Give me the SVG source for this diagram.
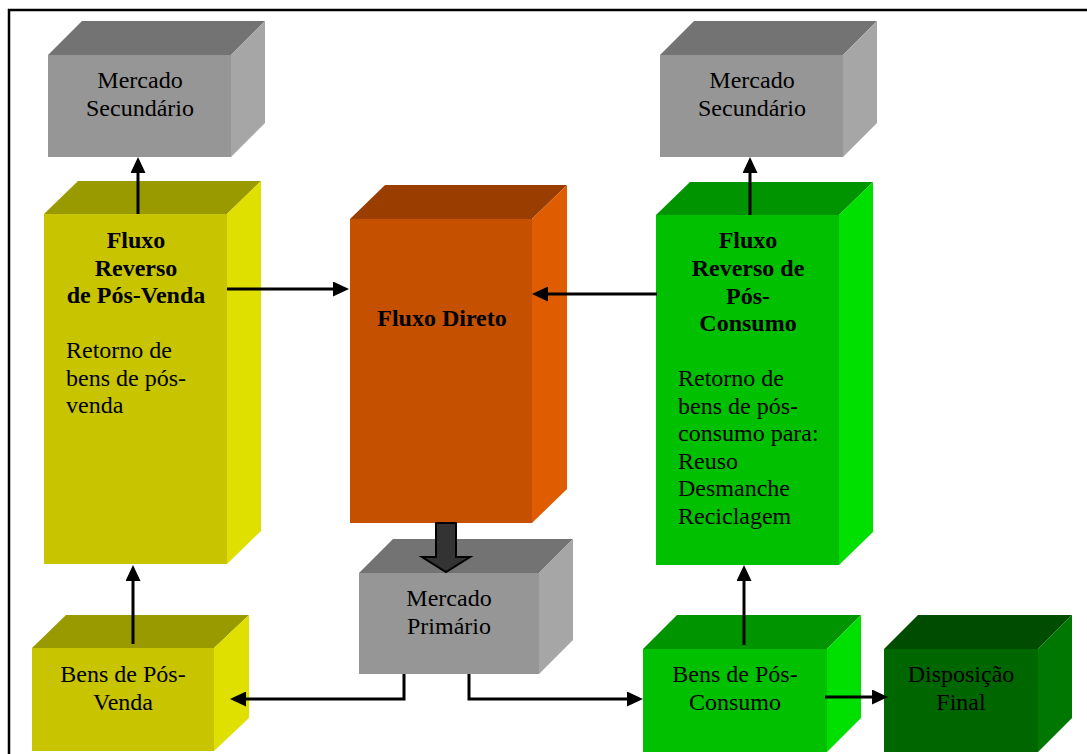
<svg xmlns="http://www.w3.org/2000/svg" width="1087" height="754" viewBox="0 0 1087 754">
  <defs>
    <marker id="head" viewBox="0 0 16 15" markerWidth="16" markerHeight="15" refX="10" refY="7.5" orient="auto" markerUnits="userSpaceOnUse">
      <path d="M0,0 L16,7.5 L0,15 z" fill="#000"/>
    </marker>
  </defs>
  <style>
    text { font-family: "Liberation Serif", "Times New Roman", serif; font-size: 24px; fill: #000; }
    .b { font-weight: bold; }
    .c { text-anchor: middle; }
    .conn { fill: none; stroke: #000; stroke-width: 3; marker-end: url(#head); }
    .gray .f { fill: #969696; } .gray .t { fill: #737373; } .gray .s { fill: #A6A6A6; }
    .yel .f { fill: #C8C400; } .yel .t { fill: #999900; } .yel .s { fill: #E0E000; }
    .ora .f { fill: #C45000; } .ora .t { fill: #993D00; } .ora .s { fill: #E05C00; }
    .grn .f { fill: #00C000; } .grn .t { fill: #009500; } .grn .s { fill: #00E000; }
    .dgr .f { fill: #006600; } .dgr .t { fill: #004C00; } .dgr .s { fill: #007700; }
  </style>

  <rect width="1087" height="754" fill="#fff"/>
  <!-- page frame -->
  <path d="M9,760 V10 H1095" fill="none" stroke="#000" stroke-width="2.5"/>

  <!-- Mercado Secundário (left) -->
  <g id="mercado-secundario-pv" class="gray">
    <polygon class="t" points="48,55 82,21 265,21 231,55"/>
    <polygon class="s" points="231,55 265,21 265,123 231,157"/>
    <rect class="f" x="48" y="55" width="183" height="102"/>
    <text class="c" x="140" y="88">Mercado</text>
    <text class="c" x="140" y="115.5">Secundário</text>
  </g>

  <!-- Mercado Secundário (right) -->
  <g id="mercado-secundario-pc" class="gray">
    <polygon class="t" points="660,55 694,21 877,21 843,55"/>
    <polygon class="s" points="843,55 877,21 877,123 843,157"/>
    <rect class="f" x="660" y="55" width="183" height="102"/>
    <text class="c" x="752" y="88">Mercado</text>
    <text class="c" x="752" y="115.5">Secundário</text>
  </g>

  <!-- Fluxo Reverso de Pós-Venda -->
  <g id="fluxo-reverso-pos-venda" class="yel">
    <polygon class="t" points="44,214 78,181 261,181 227,214"/>
    <polygon class="s" points="227,214 261,181 261,531 227,564"/>
    <rect class="f" x="44" y="214" width="183" height="350"/>
    <text class="b c" x="136" y="248">Fluxo</text>
    <text class="b c" x="136" y="275.5">Reverso</text>
    <text class="b c" x="136" y="303">de Pós-Venda</text>
    <text x="66" y="358">Retorno de</text>
    <text x="66" y="385.5">bens de pós-</text>
    <text x="66" y="413">venda</text>
  </g>

  <!-- Fluxo Direto -->
  <g id="fluxo-direto" class="ora">
    <polygon class="t" points="350,219 385,185 567,185 532,219"/>
    <polygon class="s" points="532,219 567,185 567,489 532,523"/>
    <rect class="f" x="350" y="219" width="182" height="304"/>
    <text class="b c" x="442" y="326">Fluxo Direto</text>
  </g>

  <!-- Fluxo Reverso de Pós-Consumo -->
  <g id="fluxo-reverso-pos-consumo" class="grn">
    <polygon class="t" points="656,215 690,182 873,182 839,215"/>
    <polygon class="s" points="839,215 873,182 873,532 839,565"/>
    <rect class="f" x="656" y="215" width="183" height="350"/>
    <text class="b c" x="748" y="248">Fluxo</text>
    <text class="b c" x="748" y="276">Reverso de</text>
    <text class="b c" x="748" y="303.5">Pós-</text>
    <text class="b c" x="748" y="331">Consumo</text>
    <text x="678" y="386">Retorno de</text>
    <text x="678" y="413.5">bens de pós-</text>
    <text x="678" y="441">consumo para:</text>
    <text x="678" y="468.5">Reuso</text>
    <text x="678" y="496">Desmanche</text>
    <text x="678" y="523.5">Reciclagem</text>
  </g>

  <!-- Bens de Pós-Venda -->
  <g id="bens-pos-venda" class="yel">
    <polygon class="t" points="32,648 66,615 249,615 214,648"/>
    <polygon class="s" points="214,648 249,615 249,718 214,751"/>
    <rect class="f" x="32" y="648" width="182" height="103"/>
    <text class="c" x="123" y="682">Bens de Pós-</text>
    <text class="c" x="123" y="709.5">Venda</text>
  </g>

  <!-- Mercado Primário -->
  <g id="mercado-primario" class="gray">
    <polygon class="t" points="359,573 393,539 573,539 539,573"/>
    <polygon class="s" points="539,573 573,539 573,640 539,674"/>
    <rect class="f" x="359" y="573" width="180" height="101"/>
    <text class="c" x="449" y="606">Mercado</text>
    <text class="c" x="449" y="633.5">Primário</text>
  </g>

  <!-- Bens de Pós-Consumo -->
  <g id="bens-pos-consumo" class="grn">
    <polygon class="t" points="643,649 677,615 861,615 827,649"/>
    <polygon class="s" points="827,649 861,615 861,718 827,752"/>
    <rect class="f" x="643" y="649" width="184" height="103"/>
    <text class="c" x="735" y="682">Bens de Pós-</text>
    <text class="c" x="735" y="709.5">Consumo</text>
  </g>

  <!-- Disposição Final -->
  <g id="disposicao-final" class="dgr">
    <polygon class="t" points="884,649 918,615 1072,615 1038,649"/>
    <polygon class="s" points="1038,649 1072,615 1072,718 1038,752"/>
    <rect class="f" x="884" y="649" width="154" height="103"/>
    <text class="c" x="961" y="682">Disposição</text>
    <text class="c" x="961" y="709.5">Final</text>
  </g>

  <!-- connectors -->
  <g id="connectors">
    <path class="conn" d="M138,214 V163"/>
    <path class="conn" d="M750,215 V163"/>
    <path class="conn" d="M227,289 H343"/>
    <path class="conn" d="M657,294 H538"/>
    <path class="conn" d="M133,644 V571"/>
    <path class="conn" d="M744,645 V571"/>
    <path class="conn" d="M404,674 V699 H236"/>
    <path class="conn" d="M469,674 V699 H637"/>
    <path class="conn" d="M825,697 H882"/>
    <polygon points="436,523 456,523 456,557 470,557 446,572 422,557 436,557" fill="#333" stroke="#000" stroke-width="2" stroke-linejoin="miter"/>
  </g>
</svg>
